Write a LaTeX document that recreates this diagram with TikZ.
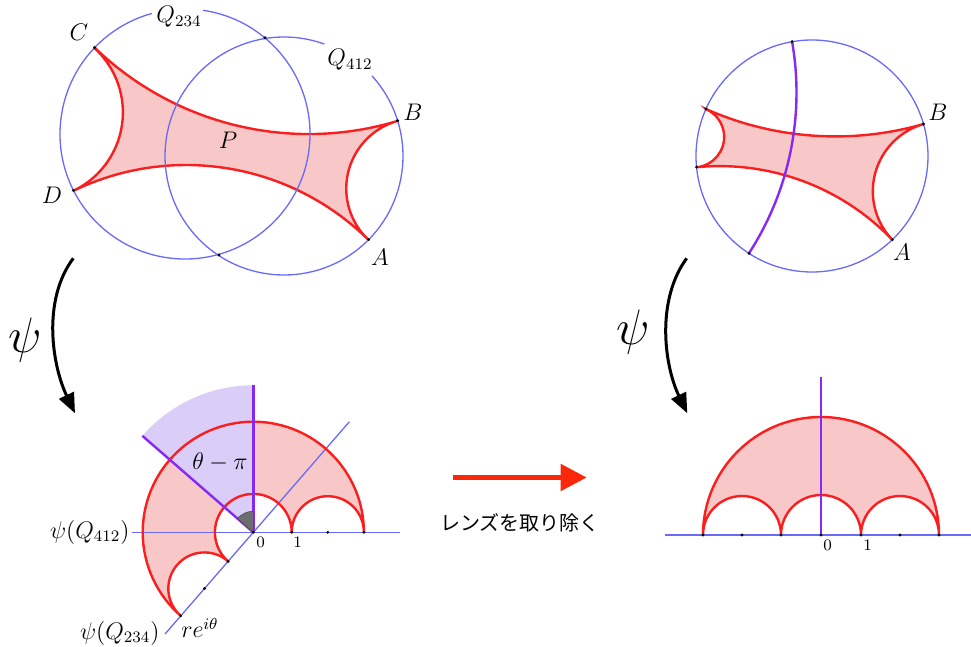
\documentclass[tikz,border=0pt]{standalone}
\usepackage{amsmath}
\usepackage{fontspec}
\newfontfamily\jpfont{Noto Sans CJK JP}
\usepackage{xcolor}
\usepackage{tikz}
\usetikzlibrary{arrows.meta}
\definecolor{bndblue}{RGB}{105,105,250}
\definecolor{geored}{RGB}{250,30,30}
\definecolor{qpink}{RGB}{248,200,200}
\definecolor{purline}{RGB}{135,40,245}
\definecolor{lavfill}{RGB}{218,206,248}
\definecolor{wedgegray}{RGB}{110,110,110}
\definecolor{arrred}{RGB}{250,40,10}

\begin{document}
\begin{tikzpicture}[
    x=0.5pt, y=-0.5pt,
    bnd/.style={draw=bndblue, line width=0.65pt},
    geo/.style={draw=geored, line width=1.2pt},
    pur/.style={draw=purline, line width=1.2pt},
    lab/.style={font=\fontsize{11.5}{13}\selectfont, inner sep=1pt},
    sm/.style={font=\fontsize{8}{9}\selectfont, inner sep=1pt},
    psil/.style={font=\fontsize{25}{28}\selectfont, inner sep=1pt},
    jp/.style={font=\jpfont\fontsize{10}{12}\selectfont, inner sep=1pt},
    mapto/.style={-{Triangle[length=10pt, width=8pt]}, line width=1.5pt},
    rmv/.style={-{Triangle[length=13pt, width=13pt]}, line width=2.5pt, draw=arrred},
]
    \useasboundingbox (0,0) rectangle (971,647);

    \coordinate (c1) at (185,134);
    \coordinate (c2) at (284,156);
    \coordinate (C) at (94.6,47.6);
    \coordinate (D) at (73.4,190.4);
    \coordinate (B) at (397.6,120.6);
    \coordinate (A) at (368.6,239.7);
    \coordinate (X1) at (265,37.7);
    \coordinate (X2) at (219,255);
    \path[fill=qpink, geo] (C) arc[start angle=134, end angle=73.2, radius=308.1]
        arc[start angle=254.4, end angle=133, radius=70.3]
        arc[start angle=-45.3, end angle=-115.8, radius=259.4]
        arc[start angle=64.6, end angle=-47.8, radius=86.9] -- cycle;
    \draw[bnd] (c1) ++(-81.7:125) arc[start angle=-81.7, end angle=254.7, radius=125];
    \draw[bnd] (c2) ++(-42.3:119) arc[start angle=-42.3, end angle=289.9, radius=119];
    \foreach \p in {A,B,C,D,X1,X2} \fill (\p) circle[radius=1.6];
    \node[lab] (lC) at (79,32) {$C$};
    \node[lab] (lD) at (52,195) {$D$};
    \node[lab] (lB) at (413,112) {$B$};
    \node[lab] (lA) at (380,257) {$A$};
    \node[lab] (lP) at (228,140) {$P$};
    \node[lab] (lQa) at (179,17) {$Q_{234}$};
    \node[lab] (lQb) at (350,60) {$Q_{412}$};

    \coordinate (c3) at (812,156);
    \coordinate (E) at (705.9,109.0);
    \coordinate (F) at (696.5,167.1);
    \coordinate (B2) at (923.5,124.0);
    \coordinate (A2) at (892.3,239.7);
    \coordinate (P1) at (792.1,41.7);
    \coordinate (P2) at (749.0,253.4);
    \path[fill=qpink, geo] (E) arc[start angle=113.9, end angle=74.0, radius=319.7]
        arc[start angle=254.0, end angle=136.2, radius=70.0]
        arc[start angle=-43.8, end angle=-95.5, radius=239.3]
        arc[start angle=84.5, end angle=-66.1, radius=30.4] -- cycle;
    \draw[bnd] (c3) circle[radius=116];
    \draw[pur] (P1) arc[start angle=-9.9, end angle=32.9, radius=295.6];
    \foreach \p in {E,F,B2,A2,P1,P2} \fill (\p) circle[radius=1.6];
    \node[lab] (lB2) at (938,112) {$B$};
    \node[lab] (lA2) at (902,252) {$A$};

    \coordinate (psiLa) at (73.3,258.3);
    \coordinate (psiLb) at (75,413.3);
    \draw[mapto] (psiLa) .. controls (42,300) and (52,365) .. (psiLb);
    \node[psil] (psiL) at (25,340) {$\psi$};
    \coordinate (psiRa) at (686.7,258.3);
    \coordinate (psiRb) at (687.3,413.3);
    \draw[mapto] (psiRa) .. controls (656,300) and (664,365) .. (psiRb);
    \node[psil] (psiR) at (633,332) {$\psi$};

    \coordinate (O1) at (253.3,532.3);
    \coordinate (V1) at (253.3,385.3);
    \coordinate (W1) at (142.4,435.9);
    \coordinate (ax1) at (400,532.3);
    \coordinate (dg1) at (349.4,421.7);
    \coordinate (dg2) at (165,634);
    \path[fill=qpink] (363.9,532.3) arc[start angle=0, end angle=-229, radius=110.6]
        arc[start angle=-229, end angle=-49, radius=36.1]
        arc[start angle=-229, end angle=0, radius=38.4]
        arc[start angle=180, end angle=360, radius=36.1] -- cycle;
    \fill[lavfill] (O1) -- (V1) arc[start angle=-90, end angle=-139, radius=147] -- cycle;
    \node[lab, anchor=east] (lQc) at (132,532.3) {$\psi(Q_{412})$};
    \node[lab, anchor=east] (lQd) at (162,633) {$\psi(Q_{234})$};
    \draw[bnd] (lQc.east) -- (ax1);
    \draw[bnd] (dg2) -- (dg1);
    \draw[geo] (363.9,532.3) arc[start angle=0, end angle=-229, radius=110.6]
        arc[start angle=-229, end angle=-49, radius=36.1]
        arc[start angle=-229, end angle=0, radius=38.4]
        arc[start angle=180, end angle=360, radius=36.1];
    \draw[pur] (O1) -- (V1);
    \draw[pur] (O1) -- (W1);
    \filldraw[fill=wedgegray, draw=wedgegray!70!black, line width=0.3pt] (O1) -- ++(-90:21) arc[start angle=-90, end angle=-139, radius=21] -- cycle;
    \foreach \p in {(253.3,532.3),(291.7,532.3),(327.8,532.3),(363.9,532.3),(228.1,561.3),(204.4,588.5),(180.7,615.8)} \fill \p circle[radius=1.6];
    \node[lab] (lth) at (220,462) {$\theta-\pi$};
    \node[lab] (lre) at (200,628) {$re^{i\theta}$};
    \node[sm] (l0a) at (260.7,542) {0};
    \node[sm] (l1a) at (297.7,542) {1};

    \coordinate (ra) at (453.3,477.5);
    \coordinate (rb) at (586.7,477.5);
    \draw[rmv] (ra) -- (rb);
    \node[jp] (ltxt) at (520,523) {レンズを取り除く};

    \coordinate (O2) at (821,535);
    \coordinate (V2) at (821,376.7);
    \path[fill=qpink, geo] (939,535) arc[start angle=0, end angle=-180, radius=118]
        arc[start angle=180, end angle=360, radius=39]
        arc[start angle=180, end angle=360, radius=40]
        arc[start angle=180, end angle=360, radius=39] -- cycle;
    \draw[bnd] (665,535) -- (971,535);
    \draw[pur] (V2) -- (O2);
    \foreach \x in {703,742,781,821,861,900,939} \fill (\x,535) circle[radius=1.6];
    \node[sm] (l0b) at (827.7,545) {0};
    \node[sm] (l1b) at (867.7,545) {1};
\end{tikzpicture}
\end{document}
